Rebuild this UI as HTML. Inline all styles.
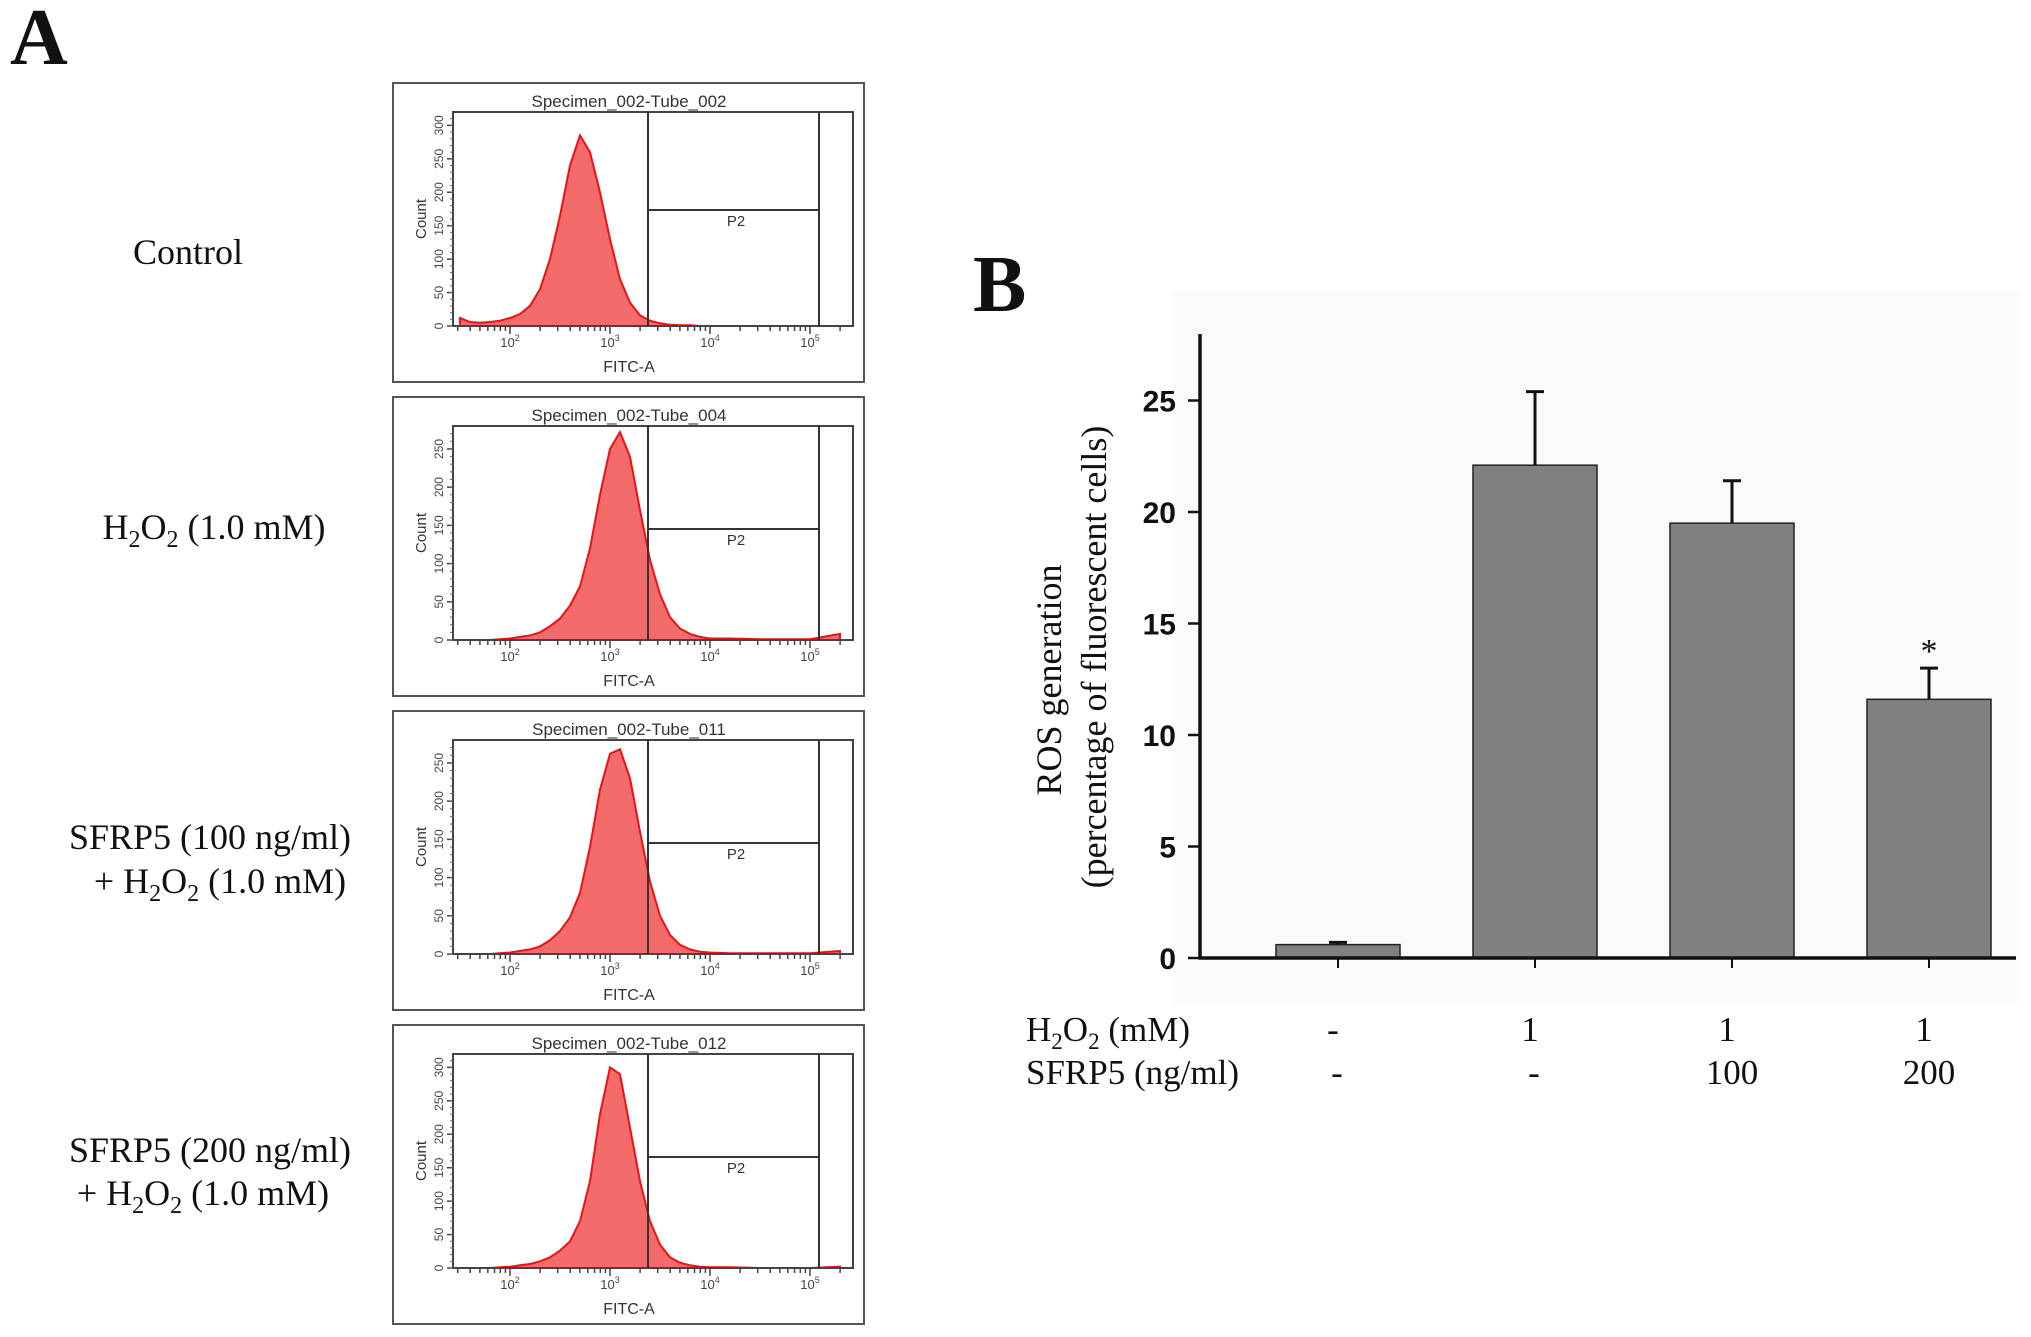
<!DOCTYPE html>
<html><head><meta charset="utf-8">
<style>
html,body{margin:0;padding:0;background:#fff;}
svg{display:block;}
</style></head>
<body>
<svg id="fig" width="2031" height="1337" viewBox="0 0 2031 1337" xmlns="http://www.w3.org/2000/svg">
  <g font-family="'Liberation Serif', serif" fill="#111">
    <text x="10" y="64" font-size="80" font-weight="bold">A</text>
    <text x="188" y="264" font-size="36" text-anchor="middle">Control</text>
    <text x="214" y="539" font-size="36" text-anchor="middle">H<tspan font-size="24" dy="8">2</tspan><tspan dy="-8">O</tspan><tspan font-size="24" dy="8">2</tspan><tspan dy="-8"> (1.0 mM)</tspan></text>
    <text x="210" y="849" font-size="36" text-anchor="middle">SFRP5 (100 ng/ml)</text>
    <text x="220" y="893" font-size="36" text-anchor="middle">+ H<tspan font-size="24" dy="8">2</tspan><tspan dy="-8">O</tspan><tspan font-size="24" dy="8">2</tspan><tspan dy="-8"> (1.0 mM)</tspan></text>
    <text x="210" y="1162" font-size="36" text-anchor="middle">SFRP5 (200 ng/ml)</text>
    <text x="203" y="1205" font-size="36" text-anchor="middle">+ H<tspan font-size="24" dy="8">2</tspan><tspan dy="-8">O</tspan><tspan font-size="24" dy="8">2</tspan><tspan dy="-8"> (1.0 mM)</tspan></text>
    <text x="973" y="311" font-size="80" font-weight="bold">B</text>
  </g>
  <g id="flow"></g>
  <g id="bars"></g>
</svg>
<script>
// ---- Flow histogram data (log10 FITC bins, counts) ----
var histLog = [1.5,1.6,1.7,1.8,1.9,2.0,2.1,2.2,2.3,2.4,2.5,2.6,2.7,2.8,2.9,3.0,3.1,3.2,3.3,3.4,3.5,3.6,3.7,3.8,3.9,4.0,4.2,4.5,5.0,5.3];
var histCtrl = [12,6,5,6,8,12,18,30,55,100,165,240,285,260,200,130,70,35,16,8,4,2,1,1,0,0,0,0,0,0];
var histH2O2 = [0,0,0,0,1,2,4,6,10,18,28,45,70,120,190,250,272,240,170,105,60,30,15,8,4,2,2,1,1,8];
var histS100 = [0,0,0,0,1,2,4,6,10,18,30,48,80,140,215,262,268,230,160,95,50,25,12,6,3,2,1,1,1,4];
var histS200 = [0,0,0,0,1,2,4,6,10,16,26,40,70,130,230,300,290,210,130,70,35,16,8,4,2,1,1,0,0,2];
var panelTitles = ["Specimen_002-Tube_002","Specimen_002-Tube_004","Specimen_002-Tube_011","Specimen_002-Tube_012"];
var panelYMax = [320,280,280,320];
var panelYTicks = [[0,50,100,150,200,250,300],[0,50,100,150,200,250],[0,50,100,150,200,250],[0,50,100,150,200,250,300]];
var xDecades = [2,3,4,5];
var allHists = [histCtrl,histH2O2,histS100,histS200];

// ---- Bar chart data ----
var barCats = ["control","h2o2","sfrp5-100","sfrp5-200"];
var barValues = [0.6,22.1,19.5,11.6];
var barErrors = [0.1,3.3,1.9,1.4];
var yTicks = [0,5,10,15,20,25];
var h2o2Labels = ["-","1","1","1"];
var sfrpLabels = ["-","-","100","200"];

var NS = "http://www.w3.org/2000/svg";
function mk(tag, attrs, parent){var e=document.createElementNS(NS,tag);for(var k in attrs)e.setAttribute(k,attrs[k]);parent.appendChild(e);return e;}

// ---- Flow panels ----
var flow = document.getElementById('flow');
var panelTops = [83,397,711,1025];
for (var p=0;p<4;p++){
  var g = mk('g',{transform:'translate(393,'+panelTops[p]+')'},flow);
  
  
  var box = mk('rect',{x:0,y:0,width:471,height:299,fill:'#fff',stroke:'#555','stroke-width':2},g);
  
  
  var px0=60,px1=460,py0=29,py1=243;
  var xs=function(l){return 117+(l-2)*100;};
  var ym=panelYMax[p];
  var ys=function(c){return py1-c/ym*(py1-py0);};
  var t = mk('text',{x:236,y:24,'font-size':17,'text-anchor':'middle','font-family':"'Liberation Sans',sans-serif",fill:'#333'},g);
  t.textContent=panelTitles[p];
  
  
  var h = allHists[p];
  var d='M'+xs(histLog[0])+','+py1;
  for(var i=0;i<histLog.length;i++){d+=' L'+Math.min(xs(histLog[i]),px1).toFixed(1)+','+ys(h[i]).toFixed(1);}
  d+=' L'+Math.min(xs(histLog[histLog.length-1]),px1)+','+py1+' Z';
  var hp = mk('path',{d:d,fill:'#f36b6b',stroke:'#e11',"stroke-width":2},g);
  
  
  mk('rect',{x:px0,y:py0,width:px1-px0,height:py1-py0,fill:'none',stroke:'#444','stroke-width':2},g);
  mk('line',{x1:255,y1:py0,x2:255,y2:py1,stroke:'#333','stroke-width':2},g);
  mk('line',{x1:426,y1:py0,x2:426,y2:py1,stroke:'#333','stroke-width':2},g);
  var gy = p==0?127:132;
  var gl = mk('line',{x1:255,y1:gy,x2:426,y2:gy,stroke:'#333','stroke-width':2},g);
  
  
  var pt = mk('text',{x:343,y:gy+16,'font-size':15,'text-anchor':'middle','font-family':"'Liberation Sans',sans-serif",fill:'#333'},g);
  pt.textContent='P2';
  var yt = panelYTicks[p];
  for(var k=0;k<yt.length;k++){
    var yy=ys(yt[k]);
    mk('line',{x1:px0-6,y1:yy,x2:px0,y2:yy,stroke:'#444','stroke-width':1.5},g);
    var lt=mk('text',{x:0,y:0,'font-size':12,'text-anchor':'middle','font-family':"'Liberation Sans',sans-serif",fill:'#444',transform:'translate('+(px0-10)+','+yy+') rotate(-90)'},g);
    lt.textContent=yt[k];
  }
  for(var c=0;c<ym;c+=10){mk('line',{x1:px0-3,y1:ys(c),x2:px0,y2:ys(c),stroke:'#666','stroke-width':1},g);}
  var cl=mk('text',{x:0,y:0,'font-size':15,'text-anchor':'middle','font-family':"'Liberation Sans',sans-serif",fill:'#333',transform:'translate(33,136) rotate(-90)'},g);
  cl.textContent='Count';
  
  
  for(var dd=1;dd<=5;dd++){for(var m=1;m<10;m++){var lx=xs(dd+Math.log10(m));if(lx<px0||lx>px1)continue;mk('line',{x1:lx,y1:py1,x2:lx,y2:py1+(m==1?8:5),stroke:'#444','stroke-width':1.5},g);}}
  for(var q=0;q<xDecades.length;q++){
    var xl=mk('text',{x:xs(xDecades[q]),y:264,'font-size':13,'text-anchor':'middle','font-family':"'Liberation Sans',sans-serif",fill:'#444'},g);
    xl.textContent='10';
    var sup=mk('tspan',{'font-size':9,dy:-6},xl); sup.textContent=xDecades[q];
  }
  var fl=mk('text',{x:236,y:289,'font-size':16,'text-anchor':'middle','font-family':"'Liberation Sans',sans-serif",fill:'#333'},g);
  fl.textContent='FITC-A';
  
  
}

// ---- Bar chart ----
var bg = document.getElementById('bars');
var bgRect = mk('rect',{x:1172,y:291,width:848,height:713,fill:'#fafafa'},bg);


var X0=1200, Y0=958, PPU=22.3, STEP=197, FIRST=1338, BW=124;
function yv(v){return Y0-v*PPU;}
function xc(i){return FIRST+i*STEP;}
for(var i=0;i<barValues.length;i++){
  var r=mk('rect',{x:xc(i)-BW/2,y:yv(barValues[i]),width:BW,height:barValues[i]*PPU,fill:'#808080',stroke:'#222','stroke-width':1.5},bg);
  
  
  var e=mk('path',{d:'M'+xc(i)+','+yv(barValues[i])+' V'+yv(barValues[i]+barErrors[i])+' M'+(xc(i)-9)+','+yv(barValues[i]+barErrors[i])+' H'+(xc(i)+9),stroke:'#111','stroke-width':3,fill:'none'},bg);
  
  
  mk('line',{x1:xc(i),y1:Y0,x2:xc(i),y2:Y0+10,stroke:'#111','stroke-width':2},bg);
  var h1=mk('text',{x:xc(i)-5,y:1041,'font-size':35,'text-anchor':'middle','font-family':"'Liberation Serif',serif",fill:'#111'},bg);
  h1.textContent=h2o2Labels[i];
  
  
  var s1=mk('text',{x:xc(i)+(i<2?-1:0),y:1084,'font-size':35,'text-anchor':'middle','font-family':"'Liberation Serif',serif",fill:'#111'},bg);
  s1.textContent=sfrpLabels[i];
  
  
}
var star=mk('text',{x:xc(3),y:yv(barValues[3]+barErrors[3])-6,'font-size':34,'text-anchor':'middle','font-family':"'Liberation Serif',serif",fill:'#111'},bg);
star.textContent='*';


var ax=mk('path',{d:'M'+X0+',334 V'+Y0+' H2016',stroke:'#111','stroke-width':3.5,fill:'none'},bg);


for(var k=0;k<yTicks.length;k++){
  mk('line',{x1:X0-12,y1:yv(yTicks[k]),x2:X0,y2:yv(yTicks[k]),stroke:'#111','stroke-width':2.5},bg);
  var tl=mk('text',{x:X0-24,y:yv(yTicks[k])+11,'font-size':30,'font-weight':'bold','text-anchor':'end','font-family':"'Liberation Sans',sans-serif",fill:'#111'},bg);
  tl.textContent=yTicks[k];
  
  
}
var yt1=mk('text',{x:0,y:0,'font-size':36,'text-anchor':'middle','font-family':"'Liberation Serif',serif",fill:'#111',transform:'translate(1061,680) rotate(-90)'},bg);
yt1.textContent='ROS generation';


var yt2=mk('text',{x:0,y:0,'font-size':36,'text-anchor':'middle','font-family':"'Liberation Serif',serif",fill:'#111',transform:'translate(1106,657) rotate(-90)'},bg);
yt2.textContent='(percentage of fluorescent cells)';


var rl1=mk('text',{x:1026,y:1041,'font-size':35,'font-family':"'Liberation Serif',serif",fill:'#111'},bg);
rl1.innerHTML='H<tspan font-size="23" dy="8">2</tspan><tspan dy="-8">O</tspan><tspan font-size="23" dy="8">2</tspan><tspan dy="-8"> (mM)</tspan>';


var rl2=mk('text',{x:1026,y:1084,'font-size':35,'font-family':"'Liberation Serif',serif",fill:'#111'},bg);
rl2.textContent='SFRP5 (ng/ml)';


</script>
</body></html>
